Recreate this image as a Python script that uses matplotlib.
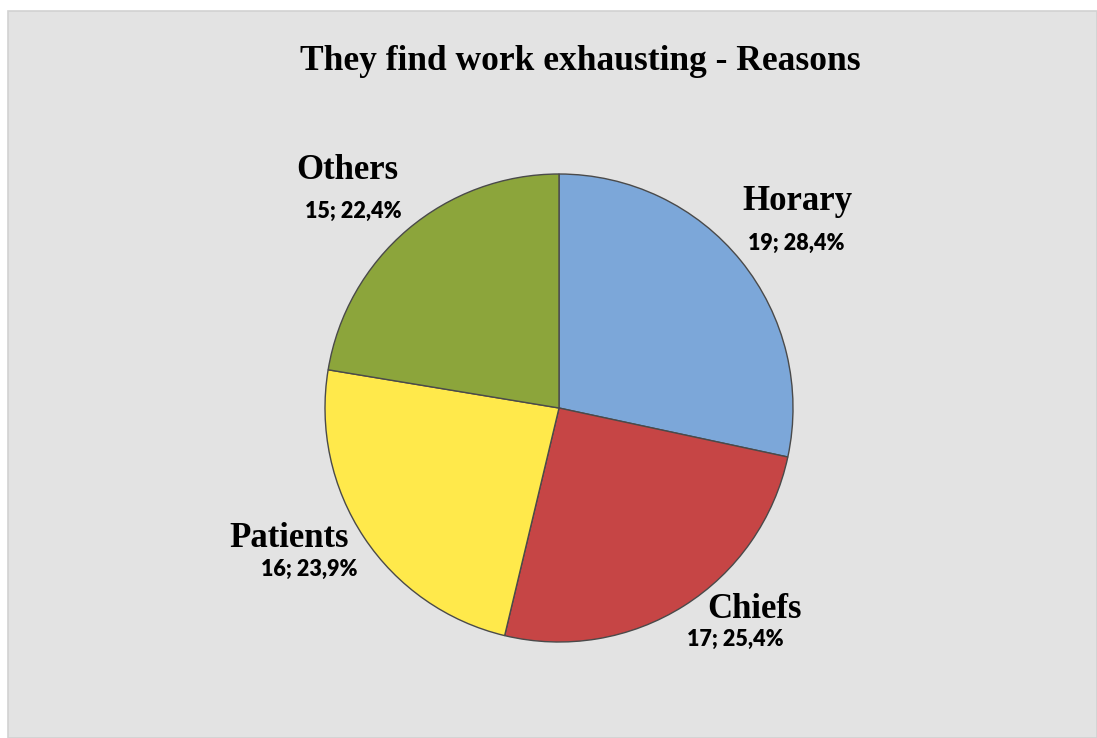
import matplotlib.pyplot as plt
from matplotlib.patches import Rectangle
import numpy as np

# reasons and counts
reasons = ["Horary", "Chiefs", "Patients", "Others"]
counts = [19, 17, 16, 15]
percent_labels = ["28,4%", "25,4%", "23,9%", "22,4%"]
colors = ["#7CA7D9", "#C64545", "#FFE94B", "#8CA53B"]

# label placement: (radius factor, angle shift in degrees) for the name, value text sits below it
name_pos = [(1.349, 1.95), (1.20, 12.0), (1.282, -7.8), (1.359, 1.42)]
value_shift = [(-0.004, -0.179), (-0.085, -0.13), (0.085, -0.134), (0.026, -0.175)]

fig = plt.figure(figsize=(10.97, 7.38), dpi=100)
fig.patch.set_facecolor("white")

# grey chart panel, kept behind the pie axes
panel = Rectangle((8 / 1097, 0), 1 - 8 / 1097, (738 - 11) / 738, transform=fig.transFigure,
                  facecolor="#E3E3E3", edgecolor="#D2D2D2", linewidth=1.2, zorder=-1)
fig.patches.append(panel)

# pie axes: centre at (559, 408) px, radius 234 px
R = 234
half = 250
ax = fig.add_axes([(559 - half) / 1097, (738 - 408 - half) / 738, 2 * half / 1097, 2 * half / 738])

wedges, _ = ax.pie(counts, colors=colors, startangle=90, counterclock=False, radius=1,
                   wedgeprops=dict(edgecolor="#4A4A4A", linewidth=1.0))
# pie() resets the limits, so set them afterwards
ax.set_xlim(-half / R, half / R)
ax.set_ylim(-half / R, half / R)
ax.set_aspect("equal")
ax.axis("off")

for w, name, n, pct, (rf, dshift), (vx, vy) in zip(wedges, reasons, counts, percent_labels,
                                                   name_pos, value_shift):
    ang = np.deg2rad((w.theta1 + w.theta2) / 2 + dshift)
    x, y = rf * np.cos(ang), rf * np.sin(ang)
    ax.text(x, y, name, ha="center", va="center", fontsize=25, fontweight="bold",
            family="Liberation Serif", color="black", clip_on=False)
    ax.text(x + vx, y + vy, f"{n}; {pct}", ha="center", va="center", fontsize=15.5,
            fontweight="heavy", family="Lato", color="black", clip_on=False)

fig.text(580 / 1097, 1 - 62 / 738, "They find work exhausting - Reasons", ha="center", va="center",
         fontsize=25.5, fontweight="bold", family="Liberation Serif", color="black")

fig.savefig("out.png", dpi=100, facecolor=fig.get_facecolor())
